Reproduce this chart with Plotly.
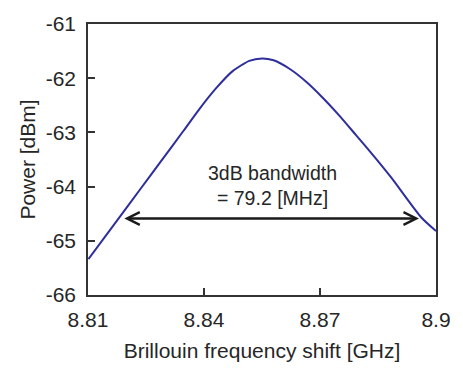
import plotly.graph_objects as go

# Data
freq_ghz = [8.8101, 8.8186, 8.8237, 8.8288, 8.8347, 8.8389, 8.8432, 8.8474,
            8.8517, 8.8550, 8.8580, 8.8622, 8.8665, 8.8707, 8.8750, 8.8792,
            8.8843, 8.8885, 8.8962, 8.9000]
power_dbm = [-65.337, -64.52, -64.03, -63.54, -62.97, -62.56, -62.18, -61.87,
             -61.68, -61.635, -61.67, -61.83, -62.07, -62.36, -62.69, -63.04,
             -63.47, -63.84, -64.57, -64.819]

x_ticks = [8.81, 8.84, 8.87, 8.9]
x_tick_labels = ["8.81", "8.84", "8.87", "8.9"]
y_ticks = [-66, -65, -64, -63, -62, -61]
y_tick_labels = ["-66", "-65", "-64", "-63", "-62", "-61"]

arrow_left = 8.8190
arrow_right = 8.8956
arrow_level = -64.59
label_x = 8.8576
label_y = -63.98
label_text = "3dB bandwidth<br>= 79.2 [MHz]"

FONT = "Liberation Sans, Arial, sans-serif"
TXT = "#262626"

fig = go.Figure()
fig.add_trace(go.Scatter(
    x=freq_ghz, y=power_dbm, mode="lines",
    line=dict(color="#2e2e9c", width=2, shape="spline", smoothing=0.6),
    showlegend=False, hoverinfo="skip"))

fig.add_annotation(
    x=arrow_right, y=arrow_level, ax=arrow_left, ay=arrow_level,
    xref="x", yref="y", axref="x", ayref="y",
    showarrow=True, text="", arrowside="end+start",
    arrowhead=5, startarrowhead=5, arrowsize=1.0, startarrowsize=1.0,
    arrowwidth=2.5, arrowcolor="#1a1a1a")

fig.add_annotation(
    x=label_x, y=label_y, xref="x", yref="y", showarrow=False,
    text=label_text, align="center",
    font=dict(family=FONT, size=19.5, color=TXT))

axis_common = dict(
    showgrid=False, zeroline=False, showline=True, linecolor="#333333",
    linewidth=1.5, mirror=True, ticks="inside", ticklen=7, tickwidth=1.5,
    tickcolor="#333333", tickfont=dict(family=FONT, size=21, color=TXT))

fig.update_xaxes(range=[8.81, 8.9], tickvals=x_ticks, ticktext=x_tick_labels,
                 title=dict(text="Brillouin frequency shift [GHz]",
                            font=dict(family=FONT, size=21, color=TXT), standoff=13),
                 ticklabelstandoff=5, **axis_common)
fig.update_yaxes(range=[-66, -61], tickvals=y_ticks, ticktext=y_tick_labels,
                 title=dict(text="Power [dBm]",
                            font=dict(family=FONT, size=21, color=TXT), standoff=4),
                 ticklabelstandoff=6, **axis_common)

fig.update_layout(
    width=463, height=371,
    margin=dict(l=88, r=21, t=14, b=68),
    paper_bgcolor="white", plot_bgcolor="white",
    font=dict(family=FONT, color=TXT))

fig.write_html("out.html")
